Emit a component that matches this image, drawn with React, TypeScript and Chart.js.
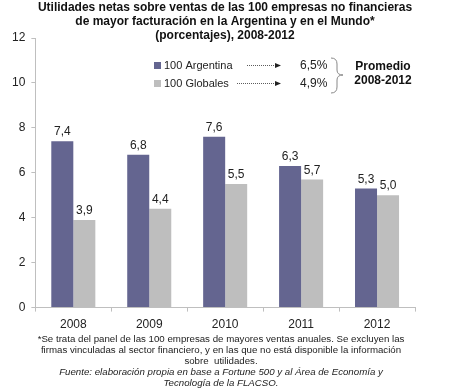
import React, { useEffect, useRef } from "react";
import { Chart, registerables } from "chart.js";
Chart.register(...registerables);

const years = ["2008", "2009", "2010", "2011", "2012"];
const argentina = [7.4, 6.8, 7.6, 6.3, 5.3];
const globales = [3.9, 4.4, 5.5, 5.7, 5.0];
const titleLines = [
  "Utilidades netas sobre ventas de las 100 empresas no financieras",
  "de mayor facturación en la Argentina y en el Mundo*",
  "(porcentajes), 2008-2012",
];
const legendNames = ["100 Argentina", "100 Globales"];
const averages = ["6,5%", "4,9%"];
const promedioLines = ["Promedio", "2008-2012"];
const footLines = [
  "*Se trata del panel de las 100 empresas de mayores ventas anuales. Se excluyen las",
  "firmas vinculadas al sector financiero, y en las que no está disponible la información",
  "sobre  utilidades.",
];
const sourceLines = [
  "Fuente: elaboración propia en base a Fortune 500 y al Área de Economía y",
  "Tecnología de la FLACSO.",
];

const PURPLE = "#646590";
const GRAY = "#BEBEBE";
const FONT = "'Liberation Sans', Arial, sans-serif";

const fmt = (v: number) => v.toFixed(1).replace(".", ",");

const overlay = {
  id: "overlay",
  afterDatasetsDraw(chart: any) {
    const ctx = chart.ctx as CanvasRenderingContext2D;
    ctx.save();
    // value labels
    ctx.fillStyle = "#222";
    ctx.font = `12px ${FONT}`;
    ctx.textAlign = "center";
    ctx.textBaseline = "alphabetic";
    chart.data.datasets.forEach((ds: any, i: number) => {
      const meta = chart.getDatasetMeta(i);
      meta.data.forEach((bar: any, j: number) => {
        ctx.fillText(fmt(ds.data[j]), bar.x, bar.y - 6);
      });
    });
    // title
    ctx.fillStyle = "#111";
    ctx.font = `bold 12px ${FONT}`;
    ctx.textBaseline = "middle";
    titleLines.forEach((t, i) => ctx.fillText(t, 225, 8 + i * 14));
    // legend
    const ly = [65, 83];
    const colors = [PURPLE, GRAY];
    ctx.textAlign = "left";
    ctx.font = `11px ${FONT}`;
    ly.forEach((y, i) => {
      ctx.fillStyle = colors[i];
      ctx.fillRect(154, y - 3, 7, 7);
      ctx.fillStyle = "#222";
      ctx.fillText(legendNames[i], 164, y + 0.5);
      ctx.font = `12px ${FONT}`;
      ctx.fillText(averages[i], 300, y + 0.5);
      ctx.font = `11px ${FONT}`;
      // dotted arrow
      const x0 = i === 0 ? 247 : 237;
      ctx.strokeStyle = "#333";
      ctx.lineWidth = 0.8;
      ctx.setLineDash([1, 1]);
      ctx.beginPath();
      ctx.moveTo(x0, y + 0.5);
      ctx.lineTo(276, y + 0.5);
      ctx.stroke();
      ctx.setLineDash([]);
      ctx.fillStyle = "#222";
      ctx.beginPath();
      ctx.moveTo(281, y + 0.5);
      ctx.lineTo(275, y - 2);
      ctx.lineTo(275, y + 3);
      ctx.closePath();
      ctx.fill();
    });
    // brace
    ctx.strokeStyle = "#888";
    ctx.lineWidth = 1;
    ctx.beginPath();
    ctx.moveTo(331, 58);
    ctx.quadraticCurveTo(337, 58, 337, 64);
    ctx.lineTo(337, 70);
    ctx.quadraticCurveTo(337, 75, 343, 75);
    ctx.quadraticCurveTo(337, 75, 337, 80);
    ctx.lineTo(337, 87);
    ctx.quadraticCurveTo(337, 93, 331, 93);
    ctx.stroke();
    // promedio
    ctx.fillStyle = "#111";
    ctx.font = `bold 12px ${FONT}`;
    ctx.textAlign = "center";
    promedioLines.forEach((t, i) => ctx.fillText(t, 383, 67 + i * 14));
    // footnotes
    ctx.fillStyle = "#222";
    ctx.font = `9.7px ${FONT}`;
    footLines.forEach((t, i) => ctx.fillText(t, 221, 339 + i * 11));
    ctx.font = `italic 9.7px ${FONT}`;
    sourceLines.forEach((t, i) => ctx.fillText(t, 221, 372 + i * 11));
    ctx.restore();
  },
};

export default function App() {
  const ref = useRef<HTMLCanvasElement>(null);
  useEffect(() => {
    document.body.style.margin = "0";
    const chart = new Chart(ref.current!, {
      type: "bar",
      data: {
        labels: years,
        datasets: [
          { label: legendNames[0], data: argentina, backgroundColor: PURPLE },
          { label: legendNames[1], data: globales, backgroundColor: GRAY },
        ],
      },
      options: {
        animation: false,
        responsive: false,
        layout: { padding: { left: 6, right: 35, top: 38, bottom: 53 } },
        datasets: { bar: { categoryPercentage: 0.58, barPercentage: 1 } } as any,
        plugins: { legend: { display: false }, title: { display: false }, tooltip: { enabled: false } },
        scales: {
          x: {
            grid: { display: true, drawOnChartArea: false, drawTicks: true, tickLength: 4, color: "#BFBFBF", offset: true },
            border: { color: "#BFBFBF" },
            ticks: { color: "#222", font: { size: 12, family: FONT }, padding: 6 },
          },
          y: {
            min: 0,
            max: 12,
            grid: { display: true, drawOnChartArea: false, tickLength: 4, color: "#BFBFBF" },
            border: { color: "#BFBFBF" },
            ticks: { stepSize: 2, color: "#222", font: { size: 12, family: FONT }, padding: 6 },
          },
        },
      },
      plugins: [overlay],
    });
    return () => chart.destroy();
  }, []);
  return <canvas ref={ref} width={450} height={391} style={{ display: "block" }} />;
}
